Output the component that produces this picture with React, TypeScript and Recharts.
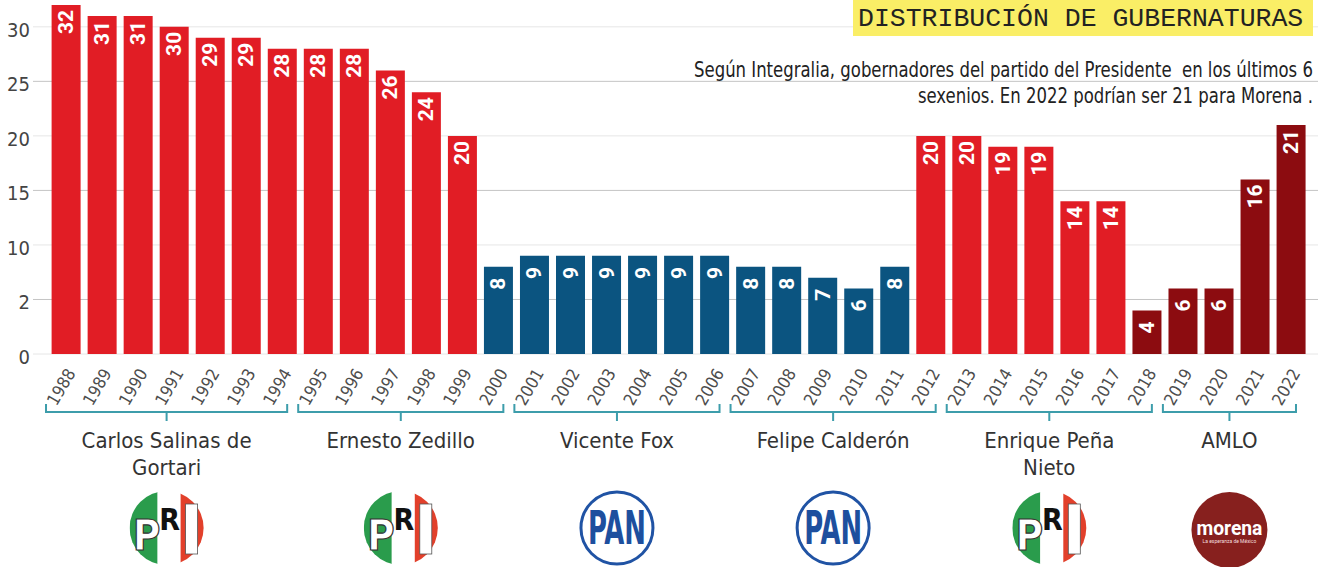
import React from 'react'
import { BarChart, Bar, XAxis, YAxis, CartesianGrid, Cell, LabelList } from 'recharts'

const years = [
  '1988', '1989', '1990', '1991', '1992', '1993', '1994', '1995', '1996', '1997', '1998', '1999',
  '2000', '2001', '2002', '2003', '2004', '2005', '2006', '2007', '2008', '2009', '2010', '2011',
  '2012', '2013', '2014', '2015', '2016', '2017', '2018', '2019', '2020', '2021', '2022',
]
const governors = [
  32, 31, 31, 30, 29, 29, 28, 28, 28, 26, 24, 20,
  8, 9, 9, 9, 9, 9, 9, 8, 8, 7, 6, 8,
  20, 20, 19, 19, 14, 14, 4, 6, 6, 16, 21,
]
const parties = [
  'PRI', 'PRI', 'PRI', 'PRI', 'PRI', 'PRI', 'PRI', 'PRI', 'PRI', 'PRI', 'PRI', 'PRI',
  'PAN', 'PAN', 'PAN', 'PAN', 'PAN', 'PAN', 'PAN', 'PAN', 'PAN', 'PAN', 'PAN', 'PAN',
  'PRI', 'PRI', 'PRI', 'PRI', 'PRI', 'PRI', 'MORENA', 'MORENA', 'MORENA', 'MORENA', 'MORENA',
]

const presidentNames = [
  ['Carlos Salinas de', 'Gortari'],
  ['Ernesto Zedillo'],
  ['Vicente Fox'],
  ['Felipe Calderón'],
  ['Enrique Peña', 'Nieto'],
  ['AMLO'],
]
const presidentFrom = ['1988', '1995', '2001', '2007', '2013', '2019']
const presidentTo = ['1994', '2000', '2006', '2012', '2018', '2022']
const presidentParty = ['PRI', 'PRI', 'PAN', 'PAN', 'PRI', 'MORENA']

const yTicks = [0, 5, 10, 15, 20, 25, 30]
const yTickLabels = ['0', '2', '10', '15', '20', '25', '30']

const title = 'DISTRIBUCIÓN DE GUBERNATURAS'
const subtitle = [
  'Según Integralia, gobernadores del partido del Presidente  en los últimos 6',
  'sexenios. En 2022 podrían ser 21 para Morena .',
]

const partyColor: Record<string, string> = {
  PRI: '#e11d25',
  PAN: '#0b5480',
  MORENA: '#8c0c10',
}

const NARROW = "'Liberation Sans Narrow', 'DejaVu Sans Condensed', Roboto, sans-serif"
const W = 1318
const H = 567
const M = { top: 5, right: 9, left: 0, bottom: 0 }
const Y_AXIS_W = 48
const AXIS_Y = 354
const BAND = (W - M.right - Y_AXIS_W) / years.length
const TEAL = '#3d9dab'

const data = years.map((year, i) => ({ year, value: governors[i], party: parties[i] }))

function PriLogo({ cx, cy }: { cx: number; cy: number }) {
  const r = 37
  const id = `pri-${Math.round(cx)}`
  return (
    <g>
      <defs>
        <clipPath id={id}><circle cx={cx} cy={cy} r={r} /></clipPath>
      </defs>
      <g clipPath={`url(#${id})`}>
        <rect x={cx - r} y={cy - r} width={28} height={2 * r} fill="#2a9c4c" />
        <rect x={cx - 9} y={cy - r} width={23} height={2 * r} fill="#fff" />
        <rect x={cx + 14} y={cy - r} width={r} height={2 * r} fill="#e2402b" />
      </g>
      <text x={cx - 20} y={cy + 22} textAnchor="middle" fontFamily={NARROW} fontWeight={700}
        fontSize={42} fill="#fff" stroke="#333" strokeWidth={1.2}>P</text>
      <text x={cx + 3} y={cy + 2} textAnchor="middle" fontFamily={NARROW} fontWeight={700}
        fontSize={30} fill="#111">R</text>
      <rect x={cx + 19} y={cy - 24} width={12} height={50} fill="#fff" stroke="#555" strokeWidth={0.8} />
    </g>
  )
}

function PanLogo({ cx, cy }: { cx: number; cy: number }) {
  return (
    <g>
      <circle cx={cx} cy={cy} r={36} fill="#fff" stroke="#2053a4" strokeWidth={3} />
      <text x={cx} y={cy + 16} textAnchor="middle" fontFamily={NARROW} fontWeight={700}
        fontSize={46} fill="#1d4f9e" textLength={58} lengthAdjust="spacingAndGlyphs">PAN</text>
    </g>
  )
}

function MorenaLogo({ cx, cy }: { cx: number; cy: number }) {
  return (
    <g>
      <circle cx={cx} cy={cy} r={38} fill="#87201e" />
      <text x={cx} y={cy + 5} textAnchor="middle" fontFamily="Roboto, sans-serif" fontWeight={700}
        fontSize={21} fill="#fff" textLength={66} lengthAdjust="spacingAndGlyphs">morena</text>
      <text x={cx} y={cy + 13} textAnchor="middle" fontFamily="Roboto, sans-serif"
        fontSize={5} fill="#f3dede">La esperanza de México</text>
    </g>
  )
}

function Logo({ party, cx, cy }: { party: string; cx: number; cy: number }) {
  if (party === 'PAN') return <PanLogo cx={cx} cy={cy} />
  if (party === 'MORENA') return <MorenaLogo cx={cx} cy={cy + 2} />
  return <PriLogo cx={cx} cy={cy} />
}

function YearTick(props: any) {
  const { x, y, payload } = props
  const band = payload && payload.offset ? payload.offset * 2 : BAND
  const label = String(payload.value)
  const g = presidentFrom.indexOf(label)
  let group = null
  if (g >= 0) {
    const n = years.indexOf(presidentTo[g]) - years.indexOf(label)
    const x0 = x - 20
    const x1 = x + n * band + 5
    const mid = (x0 + x1) / 2
    const by = y + 58
    group = (
      <g>
        <path d={`M${x0},${by - 8}V${by}H${x1}V${by - 8}M${mid},${by}V${by + 9}`}
          fill="none" stroke={TEAL} strokeWidth={2} />
        {presidentNames[g].map((line, i) => (
          <text key={line} x={mid} y={y + 94 + i * 27} textAnchor="middle" fontFamily={NARROW}
            fontSize={22} fill="#333">{line}</text>
        ))}
        <Logo party={presidentParty[g]} cx={mid} cy={y + 174} />
      </g>
    )
  }
  return (
    <g>
      <text x={x + 10} y={y + 19} transform={`rotate(-60 ${x + 10} ${y + 19})`} textAnchor="end"
        fontFamily={NARROW} fontSize={17} fill="#4d4d4d">{label}</text>
      {group}
    </g>
  )
}

function CountTick(props: any) {
  const { x, y, payload } = props
  return (
    <text x={x} y={y + 3} textAnchor="end" dominantBaseline="central" fontFamily={NARROW}
      fontSize={20} fill="#444">{yTickLabels[yTicks.indexOf(payload.value)]}</text>
  )
}

function ValueLabel(props: any) {
  const { x, y, width, value } = props
  const cx = x + width / 2
  const cy = y + 17
  return (
    <text x={cx} y={cy} transform={`rotate(-90 ${cx} ${cy})`} textAnchor="middle"
      dominantBaseline="central" fontFamily="Roboto, sans-serif" fontWeight={700}
      fontSize={21} fill="#fff">{value}</text>
  )
}

function GridLine(props: any) {
  const { x1, x2, y1, y2 } = props
  if (y1 < M.top + 3) return <g />
  const v = Math.round(((AXIS_Y - y1) * 32) / (AXIS_Y - M.top))
  return (
    <line x1={x1 - 15} x2={x2 + M.right} y1={y1} y2={y2}
      stroke={v % 10 === 5 ? '#c4c4c4' : '#e6e6e6'} strokeWidth={1} />
  )
}

export default function App() {
  return (
    <div style={{ position: 'absolute', left: 0, top: 0, width: W, height: H, background: '#fff' }}>
      <BarChart width={W} height={H} data={data} margin={M} barCategoryGap="10%">
        <CartesianGrid vertical={false} horizontal={GridLine} />
        <YAxis
          type="number"
          domain={[0, 32]}
          ticks={yTicks}
          width={Y_AXIS_W}
          axisLine={false}
          tickLine={false}
          tickSize={0}
          tickMargin={18}
          tick={<CountTick />}
        />
        <XAxis
          dataKey="year"
          height={H - AXIS_Y}
          interval={0}
          axisLine={false}
          tickLine={false}
          tickSize={0}
          tickMargin={0}
          tick={<YearTick />}
        />
        <Bar dataKey="value" isAnimationActive={false}>
          {data.map(d => <Cell key={d.year} fill={partyColor[d.party]} />)}
          <LabelList dataKey="value" content={<ValueLabel />} />
        </Bar>
      </BarChart>
      <div style={{
        position: 'absolute', left: 853, top: 0, width: 460, height: 36, background: '#faee66',
        fontFamily: "'Liberation Mono', 'DejaVu Sans Mono', monospace", fontSize: 26.5,
        lineHeight: '38px', color: '#222', paddingLeft: 5, boxSizing: 'border-box', whiteSpace: 'pre',
      }}>{title}</div>
      <div style={{
        position: 'absolute', right: 5, top: 57, textAlign: 'right', fontFamily: NARROW,
        fontSize: 21, lineHeight: '26px', color: '#222', whiteSpace: 'pre',
        transform: 'scaleX(0.873)', transformOrigin: 'right top',
      }}>
        {subtitle.map(s => <div key={s}>{s}</div>)}
      </div>
    </div>
  )
}
